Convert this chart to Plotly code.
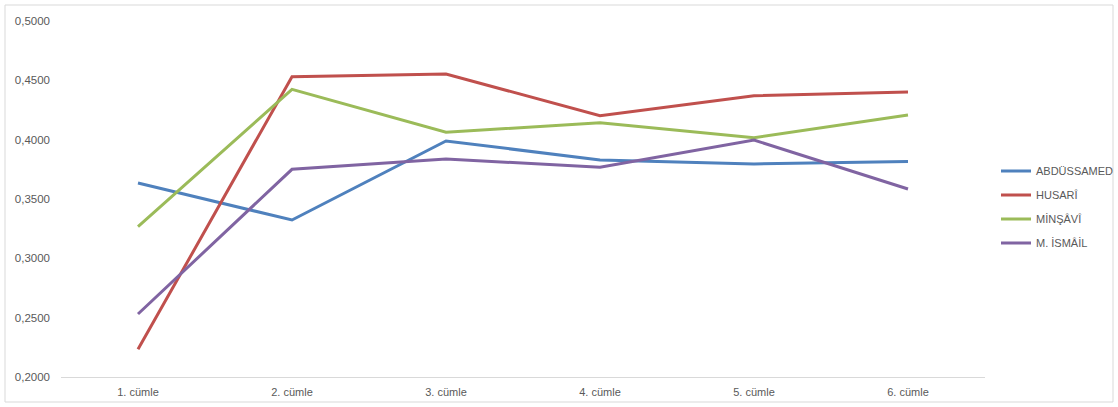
import plotly.graph_objects as go

categories = ["1. cümle", "2. cümle", "3. cümle", "4. cümle", "5. cümle", "6. cümle"]
abdussamed = [0.3635, 0.3323, 0.3989, 0.3829, 0.3795, 0.3815]
husari = [0.2233, 0.4531, 0.4553, 0.4202, 0.4371, 0.4402]
minsavi = [0.3267, 0.4424, 0.4062, 0.4143, 0.4017, 0.4208]
ismail = [0.2531, 0.3750, 0.3837, 0.3767, 0.3997, 0.3584]

series = [
    ("ABDÜSSAMED", abdussamed, "#4F81BD"),
    ("HUSARÎ", husari, "#C0504D"),
    ("MİNŞÂVÎ", minsavi, "#9BBB59"),
    ("M. İSMÂİL", ismail, "#8064A2"),
]

fig = go.Figure()
for name, vals, color in series:
    fig.add_trace(go.Scatter(x=categories, y=vals, mode="lines", name=name, legendgroup=name,
                             line=dict(color=color, width=3)))

L, R, T, B = 61, 133, 21, 30
W, H = 1118, 407
pw, ph = W - L - R, H - T - B

fig.update_layout(
    width=W, height=H,
    margin=dict(l=L, r=R, t=T, b=B, autoexpand=False),
    paper_bgcolor="white", plot_bgcolor="white",
    separators=",.",
    font=dict(family="Liberation Sans, Arial", size=11, color="#595959"),
    showlegend=True,
    legend=dict(x=(996 - L) / pw, xanchor="left", y=(H - B - 207) / ph, yanchor="middle",
                font=dict(size=11, color="#595959"), tracegroupgap=5, itemwidth=30,
                bgcolor="rgba(0,0,0,0)"),
    xaxis=dict(type="category", range=[-0.5, 5.5], showline=True, linecolor="#D9D9D9",
               linewidth=1, showgrid=False, zeroline=False, ticks="", ticklabelstandoff=5,
               tickfont=dict(size=11, color="#595959")),
    yaxis=dict(range=[0.2, 0.5], dtick=0.05, tick0=0.2, tickformat=".4f", showgrid=False,
               zeroline=False, showline=False, ticks="", ticklabelstandoff=10,
               tickfont=dict(size=11.5, color="#595959")),
    shapes=[dict(type="rect", xref="paper", yref="paper",
                 x0=(5 - L) / pw, x1=(1113 - L) / pw,
                 y0=(H - B - 402) / ph, y1=(H - B - 5) / ph,
                 line=dict(color="#D9D9D9", width=1), fillcolor="rgba(0,0,0,0)", layer="below")],
)

fig.write_html("out.html", config={"displayModeBar": False},
               post_script="document.body.style.margin='0';document.body.style.overflow='hidden';")
